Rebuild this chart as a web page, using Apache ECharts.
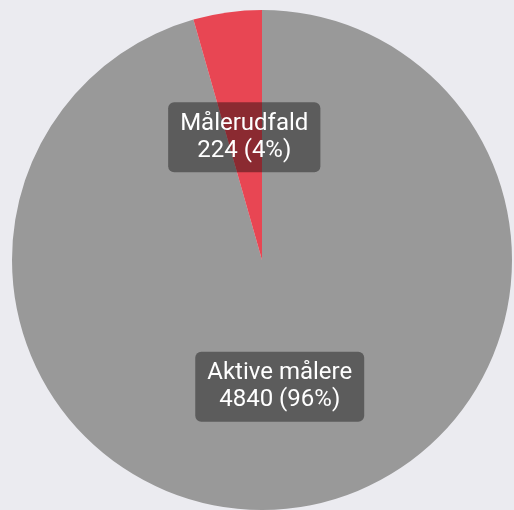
<!DOCTYPE html>
<html><head><meta charset="utf-8">
<script src="https://cdn.jsdelivr.net/npm/echarts@6/dist/echarts.min.js"></script>
<style>html,body{margin:0;padding:0;background:#ebebf0;}#c{width:514px;height:510px;}</style>
</head><body><div id="c"></div>
<script>
const categories = ["Aktive målere", "Målerudfald"];
const values = [4840, 224];
const colors = ["#999999", "#e84653"];

const chart = echarts.init(document.getElementById('c'), null, {renderer: 'canvas'});
chart.setOption({
  backgroundColor: '#ebebf0',
  animation: false,
  series: [{
    type: 'pie',
    center: [262, 260],
    radius: 250,
    startAngle: 90,
    clockwise: true,
    data: categories.map((n, i) => ({
      name: n, value: values[i], itemStyle: {color: colors[i]},
      label: i === 1 ? {offset: [0, 4]} : {}
    })),
    label: {
      position: 'inside',
      formatter: p => p.name + '\n' + p.value + ' (' + Math.round(p.percent) + '%)',
      color: '#ffffff',
      fontFamily: 'Roboto',
      fontSize: 24,
      lineHeight: 27,
      backgroundColor: 'rgba(0,0,0,0.4)',
      borderRadius: 6,
      padding: [8, 12, 8, 12]
    },
    labelLine: {show: false},
    emphasis: {disabled: true}
  }]
});
</script></body></html>
